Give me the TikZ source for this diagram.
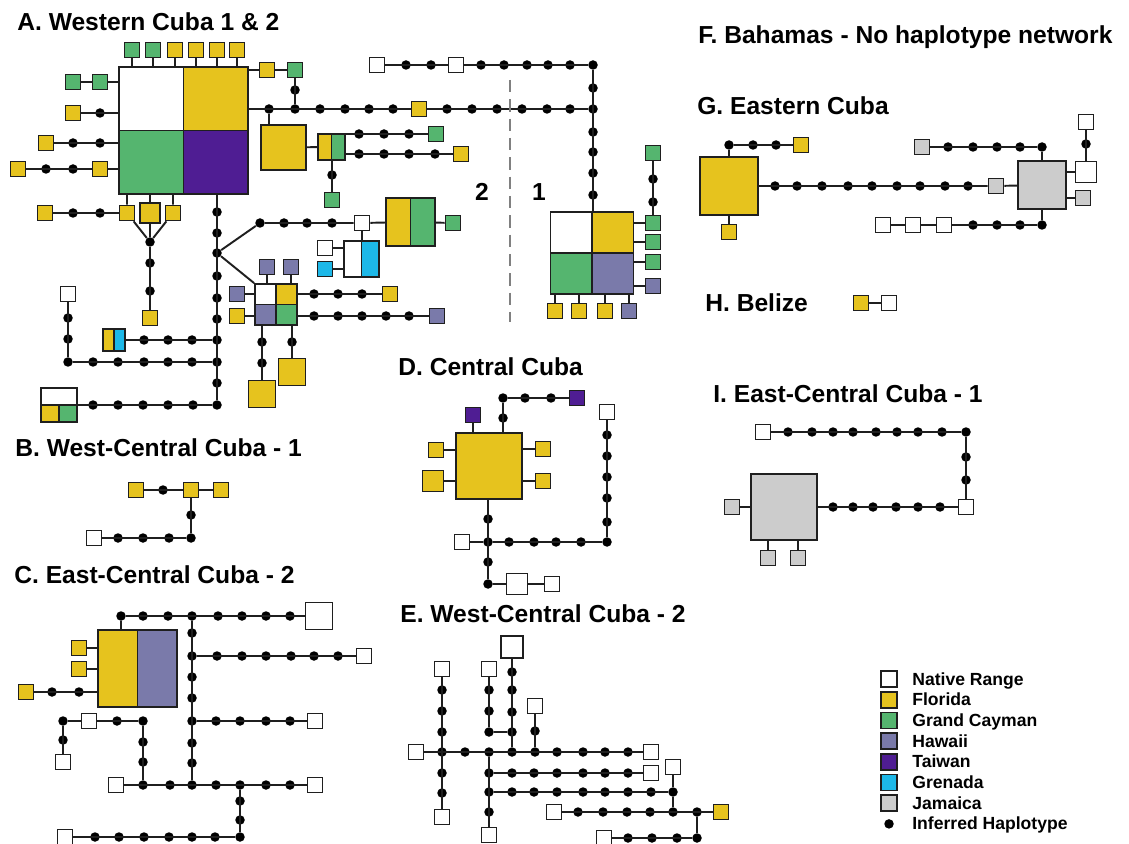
\documentclass[tikz,border=0pt]{standalone}
\usepackage{fontspec}
\setmainfont{Liberation Sans}
\definecolor{fl}{HTML}{E6C31E}
\definecolor{gc}{HTML}{55B56F}
\definecolor{hi}{HTML}{7A7AAA}
\definecolor{tw}{HTML}{4F1D93}
\definecolor{gr}{HTML}{1DB8E8}
\definecolor{jm}{HTML}{CCCCCC}
\definecolor{edge}{HTML}{1F1F1F}

\begin{document}
\begin{tikzpicture}[x=0.02cm,y=-0.02cm,
  hap/.style={rectangle,draw=edge,line width=1pt,fill=white,inner sep=0pt,minimum size=0.3cm},
  inf/.style={circle,fill=black,inner sep=0pt,minimum size=0.19cm},
  link/.style={line width=1.1pt,edge},
  ttl/.style={anchor=base west,inner sep=0pt,font=\fontsize{14}{16}\selectfont\bfseries},
  legtxt/.style={anchor=base west,inner sep=0pt,font=\fontsize{10}{12}\selectfont\bfseries},
  quad/.style n args={4}{hap,path picture={
    \fill[#1] (path picture bounding box.north west) rectangle (path picture bounding box.center);
    \fill[#2] (path picture bounding box.north east) rectangle (path picture bounding box.center);
    \fill[#3] (path picture bounding box.south west) rectangle (path picture bounding box.center);
    \fill[#4] (path picture bounding box.south east) rectangle (path picture bounding box.center);
    \draw[edge,line width=1pt] (path picture bounding box.north) -- (path picture bounding box.south)
      (path picture bounding box.west) -- (path picture bounding box.east);}},
  twin/.style 2 args={hap,path picture={
    \fill[#1] (path picture bounding box.north west) rectangle (path picture bounding box.south);
    \fill[#2] (path picture bounding box.north) rectangle (path picture bounding box.south east);
    \draw[edge,line width=1pt] (path picture bounding box.north) -- (path picture bounding box.south);}}]

\useasboundingbox (0,0) rectangle (1129,844);

\node[ttl] (tA) at (17,31) {A. Western Cuba 1 \& 2};
\node[ttl] (tB) at (15,456) {B. West-Central Cuba - 1};
\node[ttl] (tC) at (14,583) {C. East-Central Cuba - 2};
\node[ttl] (tD) at (398,376) {D. Central Cuba};
\node[ttl] (tE) at (400,622) {E. West-Central Cuba - 2};
\node[ttl] (tF) at (698,44) {F. Bahamas - No haplotype network};
\node[ttl] (tG) at (697,115) {G. Eastern Cuba};
\node[ttl] (tH) at (705,312) {H. Belize};
\node[ttl] (tI) at (713,402) {I. East-Central Cuba - 1};

\begin{scope}
\node[quad={white}{fl}{gc}{tw},minimum width=2.58cm,minimum height=2.54cm] (A) at (183.5,130.5) {};
\foreach \x/\col [count=\i] in {132/gc,153/gc,175/fl,196/fl,217/fl,237/fl}{
  \node[hap,fill=\col] (At\i) at (\x,50) {};
  \draw[link] (At\i) -- (A.north -| At\i);}

\node[hap,fill=fl] (Ar1) at (267,70) {};
\node[hap,fill=gc] (Ar2) at (295,70) {};
\node[inf] (Ad1) at (295,90) {};
\node[inf] (Aj0) at (269,109) {};
\node[inf] (Aj1) at (295,109) {};
\foreach \x in {320,345,369,393,447,472,497,522,547,570} \node[inf] (Ah\x) at (\x,109) {};
\node[hap,fill=fl] (Am) at (419,109) {};
\node[inf] (Ac) at (593,109) {};
\node[inf] (Act) at (593,65) {};
\foreach \y in {88,132,152,173,195} \node[inf] (Av\y) at (593,\y) {};
\node[hap] (Aw1) at (377,65) {};
\node[hap] (Aw2) at (456,65) {};
\foreach \x in {406,431,481,504,527,548,570} \node[inf] (Au\x) at (\x,65) {};

\node[quad={white}{fl}{gc}{hi},minimum width=1.66cm,minimum height=1.64cm] (S1) at (592,253) {};
\foreach \y/\col [count=\i] in {223/gc,242/gc,262/gc,286/hi}{
  \node[hap,fill=\col] (S1r\i) at (653,\y) {};
  \draw[link] (S1.east |- S1r\i) -- (S1r\i);}
\node[hap,fill=gc] (S1g) at (653,153) {};
\node[inf] (S1d1) at (653,179) {};
\node[inf] (S1d2) at (653,202) {};
\foreach \x/\col [count=\i] in {555/fl,579/fl,605/fl,629/hi}{
  \node[hap,fill=\col] (S1b\i) at (\x,311) {};
  \draw[link] (S1b\i) -- (S1.south -| S1b\i);}

\draw[link] (A.east |- Ar1) -- (Ar1) -- (Ar2) -- (Aj1);
\draw[link] (A.east |- Aj0) -- (Am) -- (Ac);
\draw[link] (Aw1) -- (Aw2) -- (Act) -- (S1.north -| Act);
\draw[link] (S1g) -- (S1r1);

\coordinate (dv1) at (510,80);
\coordinate (dv2) at (510,322);
\draw[gray,line width=1.1pt,dash pattern=on 7pt off 4pt] (dv1) -- (dv2);
\node[font=\fontsize{14}{16}\selectfont\bfseries,inner sep=0pt] (n2) at (482,192) {2};
\node[font=\fontsize{14}{16}\selectfont\bfseries,inner sep=0pt] (n1) at (539,192) {1};

\node[hap,fill=fl,minimum size=0.9cm] (Ayb) at (283.5,147.5) {};
\node[twin={fl}{gc},minimum width=0.54cm,minimum height=0.52cm] (Asp) at (331.5,147) {};
\foreach \x in {359,384,409}{
  \node[inf] (Ap\x) at (\x,134) {};
  \node[inf] (Aq\x) at (\x,154) {};}
\node[inf] (Aq435) at (435,154) {};
\node[hap,fill=gc] (Ag1) at (436,134) {};
\node[hap,fill=fl] (Ay2) at (461,154) {};
\node[inf] (Ad3) at (332,175) {};
\node[hap,fill=gc] (Ag3) at (332,200) {};
\draw[link] (Aj0) -- (Ayb.north -| Aj0);
\draw[link] (Ayb) -- (Asp);
\draw[link] (Asp.east |- Ag1) -- (Ag1);
\draw[link] (Asp.east |- Ay2) -- (Ay2);
\draw[link] (Asp.south -| Ag3) -- (Ag3);

\node[hap,fill=gc] (Al1) at (73,82) {};
\node[hap,fill=gc] (Al2) at (100,82) {};
\node[hap,fill=fl] (Al3) at (73,113) {};
\node[inf] (Ald1) at (100,113) {};
\node[hap,fill=fl] (Al4) at (46,143) {};
\node[inf] (Ald2) at (73,143) {};
\node[inf] (Ald3) at (100,143) {};
\node[hap,fill=fl] (Al5) at (18,169) {};
\node[inf] (Ald4) at (46,169) {};
\node[inf] (Ald5) at (73,169) {};
\node[hap,fill=fl] (Al6) at (100,169) {};
\draw[link] (Al1) -- (Al2) -- (A.west |- Al2);
\draw[link] (Al3) -- (A.west |- Al3);
\draw[link] (Al4) -- (A.west |- Al4);
\draw[link] (Al5) -- (Al6) -- (A.west |- Al6);

\node[hap,fill=fl] (Ab1) at (45,213) {};
\node[inf] (Abd1) at (73,213) {};
\node[inf] (Abd2) at (100,213) {};
\node[hap,fill=fl] (Ab2) at (127,213) {};
\node[hap,fill=fl,minimum size=0.4cm] (Ab3) at (150,213) {};
\node[hap,fill=fl] (Ab4) at (173,213) {};
\node[inf] (Af) at (150,242) {};
\node[inf] (Afd1) at (150,263) {};
\node[inf] (Afd2) at (150,291) {};
\node[hap,fill=fl] (Ab5) at (150,318) {};
\draw[link] (Ab1) -- (Ab2);
\foreach \i in {2,3,4} \draw[link] (Ab\i) -- (A.south -| Ab\i) (Ab\i) -- (Af);
\draw[link] (Af) -- (Ab5);

\foreach \y in {212,233,276,298,319,383} \node[inf] (Acv\y) at (217,\y) {};
\node[inf] (Aj2) at (217,253) {};
\node[inf] (Aj3) at (217,340) {};
\node[inf] (Aj4) at (217,362) {};
\node[inf] (Aj5) at (217,405) {};
\draw[link] (A.south -| Aj5) -- (Aj5);

\foreach \x in {260,284,307,332} \node[inf] (Ae\x) at (\x,223) {};
\node[hap] (Aw3) at (362,223) {};
\node[twin={fl}{gc},minimum width=0.98cm,minimum height=0.96cm] (Ayg) at (410.5,222) {};
\node[hap,fill=gc] (Ag4) at (453,223) {};
\node[twin={white}{gr},minimum width=0.7cm,minimum height=0.72cm] (Awc) at (361.5,259) {};
\node[hap] (Aw5) at (325,248) {};
\node[hap,fill=gr] (Agr) at (325,269) {};
\draw[link] (Aj2) -- (Ae260) -- (Aw3) -- (Ayg) -- (Ag4);
\draw[link] (Aw3) -- (Awc.north -| Aw3);
\draw[link] (Aw5) -- (Awc.west |- Aw5);
\draw[link] (Agr) -- (Awc.west |- Agr);

\node[quad={white}{fl}{hi}{gc},minimum width=0.84cm,minimum height=0.82cm] (Q) at (276,304.5) {};
\node[hap,fill=hi] (Qt1) at (267,267) {};
\node[hap,fill=hi] (Qt2) at (291,267) {};
\node[hap,fill=hi] (Ql1) at (237,294) {};
\node[hap,fill=fl] (Ql2) at (237,316) {};
\foreach \x in {314,338,362} \node[inf] (Qa\x) at (\x,294) {};
\node[hap,fill=fl] (Qr1) at (390,294) {};
\foreach \x in {314,338,362,386,409} \node[inf] (Qb\x) at (\x,316) {};
\node[hap,fill=hi] (Qr2) at (437,316) {};
\node[inf] (Qd1) at (262,342) {};
\node[inf] (Qd2) at (262,363) {};
\node[hap,fill=fl,minimum size=0.54cm] (Qbl) at (262,394) {};
\node[inf] (Qd3) at (292,342) {};
\node[hap,fill=fl,minimum size=0.54cm] (Qbr) at (292,372) {};
\draw[link] (Aj2) -- (Q.north west);
\foreach \n in {Qt1,Qt2} \draw[link] (\n) -- (Q.north -| \n);
\foreach \n in {Ql1,Ql2} \draw[link] (\n) -- (Q.west |- \n);
\foreach \n in {Qr1,Qr2} \draw[link] (Q.east |- \n) -- (\n);
\foreach \n in {Qbl,Qbr} \draw[link] (Q.south -| \n) -- (\n);

\node[hap] (Aw4) at (68,294) {};
\node[inf] (Ak1) at (68,318) {};
\node[inf] (Ak2) at (68,339) {};
\node[inf] (Ac2) at (68,362) {};
\foreach \x in {93,118,144,168,192} \node[inf] (Ai\x) at (\x,362) {};
\node[twin={fl}{gr},minimum width=0.44cm,minimum height=0.44cm] (Ayc) at (114,340) {};
\foreach \x in {144,168,192} \node[inf] (Ao\x) at (\x,340) {};
\node[hap,minimum width=0.72cm,minimum height=0.68cm,path picture={
  \fill[fl] (path picture bounding box.west) rectangle (path picture bounding box.south);
  \fill[gc] (path picture bounding box.south) rectangle (path picture bounding box.east);
  \draw[edge,line width=1pt] (path picture bounding box.west) -- (path picture bounding box.east)
    (path picture bounding box.center) -- (path picture bounding box.south);}] (Abx) at (59,405) {};
\foreach \x in {93,118,143,168,193} \node[inf] (Az\x) at (\x,405) {};
\draw[link] (Aw4) -- (Ac2) -- (Aj4);
\draw[link] (Ayc) -- (Aj3);
\draw[link] (Abx) -- (Aj5);
\end{scope}

\begin{scope}
\node[hap,fill=fl] (B1) at (136,490) {};
\node[inf] (Bd1) at (163,490) {};
\node[hap,fill=fl] (B2) at (191,490) {};
\node[hap,fill=fl] (B3) at (221,490) {};
\node[inf] (Bd2) at (191,515) {};
\node[inf] (Bc) at (191,538) {};
\foreach \x in {118,143,169} \node[inf] (Bh\x) at (\x,538) {};
\node[hap] (Bw) at (94,538) {};
\draw[link] (B1) -- (B2) -- (B3);
\draw[link] (B2) -- (Bc) -- (Bw);
\end{scope}

\begin{scope}
\node[twin={fl}{hi},minimum width=1.58cm,minimum height=1.54cm] (Cb) at (137.5,668.5) {};
\node[inf] (Cc1) at (121,616) {};
\foreach \x in {143,168,218,242,266,290} \node[inf] (Ct\x) at (\x,616) {};
\node[inf] (Cj1) at (192,616) {};
\node[hap,minimum size=0.54cm] (Cw1) at (319,616) {};
\node[hap,fill=fl] (Cy1) at (79,648) {};
\node[hap,fill=fl] (Cy2) at (79,669) {};
\node[hap,fill=fl] (Cy3) at (26,692) {};
\node[inf] (Cd1) at (52,692) {};
\node[inf] (Cd2) at (79,692) {};
\foreach \y in {633,677,698,743,763} \node[inf] (Cv\y) at (192,\y) {};
\node[inf] (Cj2) at (192,656) {};
\node[inf] (Cj3) at (192,721) {};
\node[inf] (Cj4) at (192,785) {};
\foreach \x in {217,242,266,291,314,338} \node[inf] (Cp\x) at (\x,656) {};
\node[hap] (Cw2) at (364,656) {};
\foreach \x in {216,240,266,290} \node[inf] (Cq\x) at (\x,721) {};
\node[hap] (Cw3) at (315,721) {};
\node[hap] (Cw4) at (116,785) {};
\node[inf] (Cj5) at (143,785) {};
\node[inf] (Cj6) at (240,785) {};
\foreach \x in {170,216,266,290} \node[inf] (Cr\x) at (\x,785) {};
\node[hap] (Cw5) at (315,785) {};
\node[inf] (Cs1) at (143,762) {};
\node[inf] (Cs2) at (143,742) {};
\node[inf] (Cc2) at (143,721) {};
\node[inf] (Cs3) at (117,721) {};
\node[hap] (Cw6) at (89,721) {};
\node[inf] (Cc3) at (63,721) {};
\node[inf] (Cs4) at (63,740) {};
\node[hap] (Cw7) at (63,762) {};
\node[inf] (Cs5) at (240,801) {};
\node[inf] (Cs6) at (240,820) {};
\node[inf] (Cc4) at (240,837) {};
\foreach \x in {95,119,144,169,192,215} \node[inf] (Cu\x) at (\x,837) {};
\node[hap] (Cw8) at (65,837) {};
\draw[link] (Cb.north -| Cc1) -- (Cc1) -- (Cw1);
\draw[link] (Cy1) -- (Cb.west |- Cy1);
\draw[link] (Cy2) -- (Cb.west |- Cy2);
\draw[link] (Cy3) -- (Cb.west |- Cy3);
\draw[link] (Cj1) -- (Cj4);
\draw[link] (Cj2) -- (Cw2);
\draw[link] (Cj3) -- (Cw3);
\draw[link] (Cw4) -- (Cw5);
\draw[link] (Cj5) -- (Cc2) -- (Cw6);
\draw[link] (Cw6) -- (Cc3) -- (Cw7);
\draw[link] (Cj6) -- (Cc4) -- (Cw8);
\end{scope}

\begin{scope}
\node[hap,fill=fl,minimum size=1.32cm] (Db) at (489,466) {};
\node[hap,fill=tw] (Dt1) at (473,415) {};
\node[inf] (Dd1) at (503,418) {};
\node[inf] (Dc1) at (503,398) {};
\node[inf] (Dd2) at (525,398) {};
\node[inf] (Dd3) at (551,398) {};
\node[hap,fill=tw] (Dt2) at (577,398) {};
\node[hap,fill=fl] (Dl1) at (436,450) {};
\node[hap,fill=fl,minimum size=0.42cm] (Dl2) at (433,481) {};
\node[hap,fill=fl] (Dr1) at (543,449) {};
\node[hap,fill=fl] (Dr2) at (543,481) {};
\node[inf] (Dd4) at (488,519) {};
\node[inf] (Dj) at (488,542) {};
\node[inf] (Dd5) at (488,562) {};
\node[inf] (Dc2) at (488,584) {};
\node[hap,minimum size=0.42cm] (Dw1) at (517,584) {};
\node[hap] (Dw2) at (552,584) {};
\node[hap] (Dw3) at (462,542) {};
\foreach \x in {509,534,556,581} \node[inf] (Dh\x) at (\x,542) {};
\node[inf] (Dc3) at (607,542) {};
\foreach \y in {435,456,477,498,522} \node[inf] (Dv\y) at (607,\y) {};
\node[hap] (Dw4) at (607,412) {};
\draw[link] (Dt1) -- (Db.north -| Dt1);
\draw[link] (Db.north -| Dc1) -- (Dc1) -- (Dt2);
\draw[link] (Dl1) -- (Db.west |- Dl1);
\draw[link] (Dl2) -- (Db.west |- Dl2);
\draw[link] (Db.east |- Dr1) -- (Dr1);
\draw[link] (Db.east |- Dr2) -- (Dr2);
\draw[link] (Db.south -| Dc2) -- (Dc2) -- (Dw1) -- (Dw2);
\draw[link] (Dw3) -- (Dj);
\draw[link] (Dj) -- (Dc3) -- (Dw4);
\end{scope}

\begin{scope}
\node[hap] (Ew1) at (416,752) {};
\node[inf] (Ej1) at (442,752) {};
\node[inf] (Ej2) at (489,752) {};
\node[inf] (Ej3) at (512,752) {};
\node[inf] (Ej4) at (535,752) {};
\foreach \x in {465,557,583,605,628} \node[inf] (Ea\x) at (\x,752) {};
\node[hap] (Ew2) at (651,752) {};
\node[hap] (Ew3) at (442,669) {};
\foreach \y in {690,711,732,773,793} \node[inf] (Eb\y) at (442,\y) {};
\node[hap] (Ew4) at (442,817) {};
\node[hap] (Ew5) at (489,669) {};
\node[inf] (Ec3) at (489,690) {};
\node[inf] (Ec4) at (489,711) {};
\node[inf] (Ec1) at (489,732) {};
\node[inf] (Ej5) at (512,732) {};
\node[hap,minimum size=0.44cm] (Ew6) at (512,647) {};
\foreach \y in {672,690,712} \node[inf] (Ed\y) at (512,\y) {};
\node[hap] (Ew7) at (535,706) {};
\node[inf] (Ee1) at (535,731) {};
\node[inf] (Ej6) at (489,773) {};
\node[inf] (Ej7) at (489,792) {};
\node[inf] (Ee2) at (489,812) {};
\node[hap] (Ew8) at (489,835) {};
\foreach \x in {512,534,557,583,605,628} \node[inf] (Ef\x) at (\x,773) {};
\node[hap] (Ew9) at (651,773) {};
\foreach \x in {512,534,557,583,605,628,651} \node[inf] (Eg\x) at (\x,792) {};
\node[inf] (Ej8) at (673,792) {};
\node[hap] (Ew10) at (673,767) {};
\node[hap] (Ew11) at (554,812) {};
\foreach \x in {578,603,627,650} \node[inf] (Eh\x) at (\x,812) {};
\node[inf] (Ej9) at (673,812) {};
\node[inf] (Ej10) at (697,812) {};
\node[hap,fill=fl] (Ey) at (721,812) {};
\node[inf] (Ec2) at (697,838) {};
\foreach \x in {628,652,677} \node[inf] (Ei\x) at (\x,838) {};
\node[hap] (Ew12) at (604,838) {};
\draw[link] (Ew1) -- (Ew2);
\draw[link] (Ew3) -- (Ew4);
\draw[link] (Ew5) -- (Ec1) -- (Ej5);
\draw[link] (Ew6) -- (Ej3);
\draw[link] (Ew7) -- (Ej4);
\draw[link] (Ej2) -- (Ew8);
\draw[link] (Ej6) -- (Ew9);
\draw[link] (Ej7) -- (Ej8) -- (Ew10);
\draw[link] (Ej8) -- (Ej9);
\draw[link] (Ew11) -- (Ey);
\draw[link] (Ej10) -- (Ec2) -- (Ew12);
\end{scope}

\begin{scope}
\node[hap,fill=fl,minimum size=1.16cm] (Gb) at (729,186) {};
\node[inf] (Gc1) at (729,145) {};
\node[inf] (Gd1) at (753,145) {};
\node[inf] (Gd2) at (776,145) {};
\node[hap,fill=fl] (Gy1) at (801,145) {};
\node[hap,fill=fl] (Gy2) at (729,232) {};
\foreach \x in {775,797,822,848,872,897,920,945,968} \node[inf] (Gh\x) at (\x,186) {};
\node[hap,fill=jm] (Gg1) at (996,186) {};
\node[hap,fill=jm,minimum size=0.96cm] (Gk) at (1042,185) {};
\node[inf] (Gc2) at (1042,147) {};
\foreach \x in {948,973,997,1020} \node[inf] (Gt\x) at (\x,147) {};
\node[hap,fill=jm] (Gg2) at (922,147) {};
\node[inf] (Gc3) at (1042,225) {};
\foreach \x in {973,997,1020} \node[inf] (Gu\x) at (\x,225) {};
\node[hap] (Gw1) at (944,225) {};
\node[hap] (Gw2) at (913,225) {};
\node[hap] (Gw3) at (883,225) {};
\node[hap,minimum size=0.42cm] (Gw4) at (1086,172) {};
\node[hap,fill=jm] (Gg3) at (1083,198) {};
\node[inf] (Gd3) at (1086,144) {};
\node[hap] (Gw5) at (1086,122) {};
\draw[link] (Gb.north -| Gc1) -- (Gc1) -- (Gy1);
\draw[link] (Gb) -- (Gy2);
\draw[link] (Gb) -- (Gg1) -- (Gk);
\draw[link] (Gk.north -| Gc2) -- (Gc2) -- (Gg2);
\draw[link] (Gk.south -| Gc3) -- (Gc3) -- (Gw1) -- (Gw2) -- (Gw3);
\draw[link] (Gk.east |- Gw4) -- (Gw4) -- (Gw5);
\draw[link] (Gk.east |- Gg3) -- (Gg3);

\node[hap,fill=fl] (Hy) at (861,303) {};
\node[hap] (Hw) at (889,303) {};
\draw[link] (Hy) -- (Hw);
\end{scope}

\begin{scope}
\node[hap] (Iw1) at (763,432) {};
\foreach \x in {788,812,833,853,876,897,918,942} \node[inf] (It\x) at (\x,432) {};
\node[inf] (Ic) at (966,432) {};
\node[inf] (Id1) at (966,457) {};
\node[inf] (Id2) at (966,480) {};
\node[hap] (Iw2) at (966,507) {};
\node[hap,fill=jm,minimum size=1.32cm] (Ib) at (784,507) {};
\foreach \x in {833,853,873,896,918,940} \node[inf] (Ih\x) at (\x,507) {};
\node[hap,fill=jm] (Ig1) at (732,507) {};
\node[hap,fill=jm] (Ig2) at (768,558) {};
\node[hap,fill=jm] (Ig3) at (798,558) {};
\draw[link] (Iw1) -- (Ic) -- (Iw2);
\draw[link] (Ib) -- (Iw2);
\draw[link] (Ig1) -- (Ib);
\draw[link] (Ib.south -| Ig2) -- (Ig2);
\draw[link] (Ib.south -| Ig3) -- (Ig3);
\end{scope}

\begin{scope}
\foreach \col/\txt [count=\i] in {white/Native Range,fl/Florida,gc/Grand Cayman,hi/Hawaii,tw/Taiwan,gr/Grenada,jm/Jamaica}{
  \node[hap,fill=\col,minimum size=0.32cm] (L\i) at (889,658.3+20.7*\i) {};
  \node[legtxt] (Lt\i) at (912,664.3+20.7*\i) {\txt};}
\node[inf] (L8) at (889,823.9) {};
\node[legtxt] (Lt8) at (912,829.9) {Inferred Haplotype};
\end{scope}

\end{tikzpicture}
\end{document}
